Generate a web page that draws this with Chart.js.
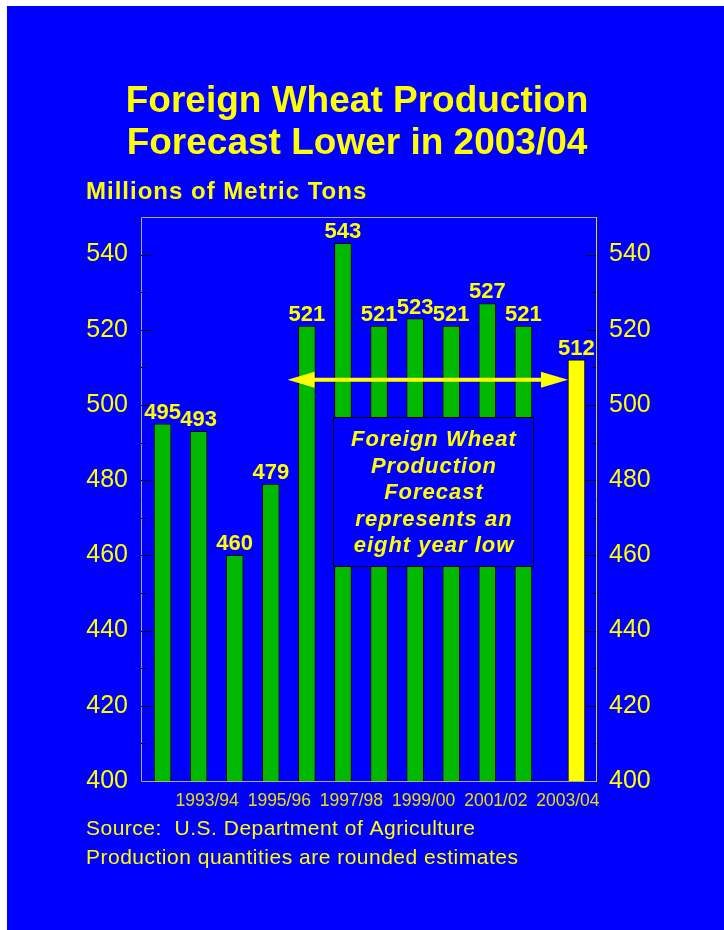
<!DOCTYPE html>
<html>
<head>
<meta charset="utf-8">
<title>Foreign Wheat Production</title>
<script src="https://cdn.jsdelivr.net/npm/chart.js@4.4.1/dist/chart.umd.min.js"></script>
<style>
  html, body { margin: 0; padding: 0; background: #fff; }
  canvas { display: block; }
</style>
</head>
<body>
<canvas id="wheatChart" width="724" height="930"></canvas>
<script>
// Foreign wheat production, million metric tons
const years = ['1992/93', '1993/94', '1994/95', '1995/96', '1996/97', '1997/98',
               '1998/99', '1999/00', '2000/01', '2001/02', '2002/03', '2003/04'];
const estimates = [495, 493, 460, 479, 521, 543, 521, 523, 521, 527, 521, null];
const forecast = [null, null, null, null, null, null, null, null, null, null, null, 512];
const yMin = 400, yMax = 550, yStep = 10, yLabelStep = 20;

const titleLines = ['Foreign Wheat Production', 'Forecast Lower in 2003/04'];
const unitLabel = 'Millions of Metric Tons';
const sourceLines = ['Source:  U.S. Department of Agriculture',
                     'Production quantities are rounded estimates'];
const noteLines = ['Foreign Wheat', 'Production', 'Forecast', 'represents an', 'eight year low'];

// annotation placement, in category / value units
const arrowLevel = 506.7, arrowFrom = 3.23, arrowTo = 11;
const noteBox = { from: 4.48, to: 10.04, top: 496.7, bottom: 457.1 };

const FONT = "'Liberation Sans', Arial, Helvetica, sans-serif";
const BLUE = '#0000ff', GREEN = '#00b800', YELLOW = '#ffff00';

// pixel for a (fractional) category position
function catPx(scale, v) {
    return scale.left + (v + 0.5) * scale.width / years.length;
}

const slidePlugin = {
    id: 'slide',
    beforeDraw(chart) {
        const ctx = chart.ctx;
        ctx.save();
        ctx.fillStyle = '#fff';
        ctx.fillRect(0, 0, chart.width, chart.height);
        ctx.fillStyle = BLUE;
        ctx.fillRect(7, 6, chart.width - 7, chart.height - 6);
        ctx.restore();
    },
    beforeDatasetsDraw(chart) {
        // plot frame and inside tick marks
        const { ctx, chartArea: a, scales: { y } } = chart;
        const left = a.left - 12, right = a.right + 10;
        ctx.save();
        ctx.lineWidth = 1;
        ctx.strokeStyle = '#b4ac84';
        ctx.beginPath();
        ctx.moveTo(right, a.top + 0.5);
        ctx.lineTo(left + 0.5, a.top + 0.5);
        ctx.lineTo(left + 0.5, a.bottom + 0.5);
        ctx.lineTo(right, a.bottom + 0.5);
        ctx.stroke();
        ctx.strokeStyle = '#e0d800';
        ctx.beginPath();
        ctx.moveTo(right + 0.5, a.top);
        ctx.lineTo(right + 0.5, a.bottom + 1);
        ctx.stroke();
        ctx.strokeStyle = '#000';
        y.ticks.forEach(t => {
            if (t.value <= yMin || t.value >= yMax) return;
            const py = Math.round(y.getPixelForValue(t.value)) + 0.5;
            const len = t.value % yLabelStep === 0 ? 10 : 4;
            ctx.beginPath();
            ctx.moveTo(left, py);
            ctx.lineTo(left + len + 1, py);
            ctx.moveTo(right, py);
            ctx.lineTo(right - len, py);
            ctx.stroke();
        });
        ctx.restore();
    },
    afterDatasetsDraw(chart) {
        const { ctx, scales: { x, y } } = chart;
        ctx.save();

        // value labels
        ctx.fillStyle = YELLOW;
        ctx.font = 'bold 22px ' + FONT;
        ctx.textAlign = 'center';
        ctx.textBaseline = 'alphabetic';
        chart.data.datasets.forEach((ds, i) => {
            chart.getDatasetMeta(i).data.forEach((bar, j) => {
                if (ds.data[j] == null) return;
                ctx.fillText(ds.data[j], bar.x, bar.y - 5);
            });
        });

        // double-headed arrow
        const ya = y.getPixelForValue(arrowLevel);
        const x1 = catPx(x, arrowFrom), x2 = catPx(x, arrowTo);
        ctx.strokeStyle = YELLOW;
        ctx.lineWidth = 4;
        ctx.beginPath();
        ctx.moveTo(x1 + 20, ya);
        ctx.lineTo(x2 - 20, ya);
        ctx.stroke();
        ctx.beginPath();
        ctx.moveTo(x1, ya);
        ctx.lineTo(x1 + 27, ya - 8);
        ctx.lineTo(x1 + 27, ya + 8);
        ctx.closePath();
        ctx.moveTo(x2, ya);
        ctx.lineTo(x2 - 27, ya - 8);
        ctx.lineTo(x2 - 27, ya + 8);
        ctx.closePath();
        ctx.fill();

        // note box
        const bx1 = Math.round(catPx(x, noteBox.from)), bx2 = Math.round(catPx(x, noteBox.to));
        const by1 = Math.round(y.getPixelForValue(noteBox.top)), by2 = Math.round(y.getPixelForValue(noteBox.bottom));
        ctx.fillStyle = BLUE;
        ctx.fillRect(bx1, by1, bx2 - bx1, by2 - by1);
        ctx.strokeStyle = '#000';
        ctx.lineWidth = 1;
        ctx.strokeRect(bx1 + 0.5, by1 + 0.5, bx2 - bx1, by2 - by1);
        ctx.fillStyle = YELLOW;
        ctx.font = 'italic bold 22px ' + FONT;
        ctx.letterSpacing = '1px';
        noteLines.forEach((line, i) => {
            ctx.fillText(line, (bx1 + bx2) / 2 + 1, by1 + 29 + i * 26.5);
        });
        ctx.restore();
    },
    afterDraw(chart) {
        const ctx = chart.ctx;
        ctx.save();
        ctx.fillStyle = YELLOW;
        ctx.textBaseline = 'alphabetic';

        ctx.font = 'bold 37px ' + FONT;
        ctx.textAlign = 'center';
        titleLines.forEach((line, i) => ctx.fillText(line, 357, 112 + i * 42));

        ctx.textAlign = 'left';
        ctx.font = 'bold 24px ' + FONT;
        ctx.letterSpacing = '1px';
        ctx.fillText(unitLabel, 86, 199);

        ctx.font = '21px ' + FONT;
        ctx.letterSpacing = '0.5px';
        sourceLines.forEach((line, i) => ctx.fillText(line, 86, 835 + i * 29));
        ctx.restore();
    }
};

function yAxis(position, padding, width) {
    return {
        position: position,
        min: yMin,
        max: yMax,
        grid: { display: false },
        border: { display: false },
        ticks: {
            stepSize: yStep,
            padding: padding,
            color: YELLOW,
            font: { family: FONT, size: 25 },
            callback: v => (v % yLabelStep === 0 && v < yMax) ? v : ''
        },
        afterFit(scale) { scale.width = width; }
    };
}

new Chart(document.getElementById('wheatChart'), {
    type: 'bar',
    data: {
        labels: years,
        datasets: [
            { label: 'Estimate', data: estimates, backgroundColor: GREEN, borderColor: '#000', borderWidth: 1 },
            { label: 'Forecast', data: forecast, backgroundColor: YELLOW, borderColor: '#000', borderWidth: 1 }
        ]
    },
    options: {
        responsive: false,
        animation: false,
        layout: { padding: { left: 0, right: 0, top: 217, bottom: 0 } },
        datasets: { bar: { barThickness: 17 } },
        plugins: {
            legend: { display: false },
            tooltip: { enabled: false }
        },
        scales: {
            x: {
                grid: { display: false },
                border: { display: false },
                ticks: {
                    autoSkip: false,
                    maxRotation: 0,
                    padding: 2,
                    color: '#e8e000',
                    font: { family: FONT, size: 17.5 },
                    callback: (v, i) => i % 2 ? years[i] : ''
                },
                afterFit(scale) { scale.height = 149; }
            },
            y: yAxis('left', 17, 153),
            y2: yAxis('right', 15, 138)
        }
    },
    plugins: [slidePlugin]
});
</script>
</body>
</html>
